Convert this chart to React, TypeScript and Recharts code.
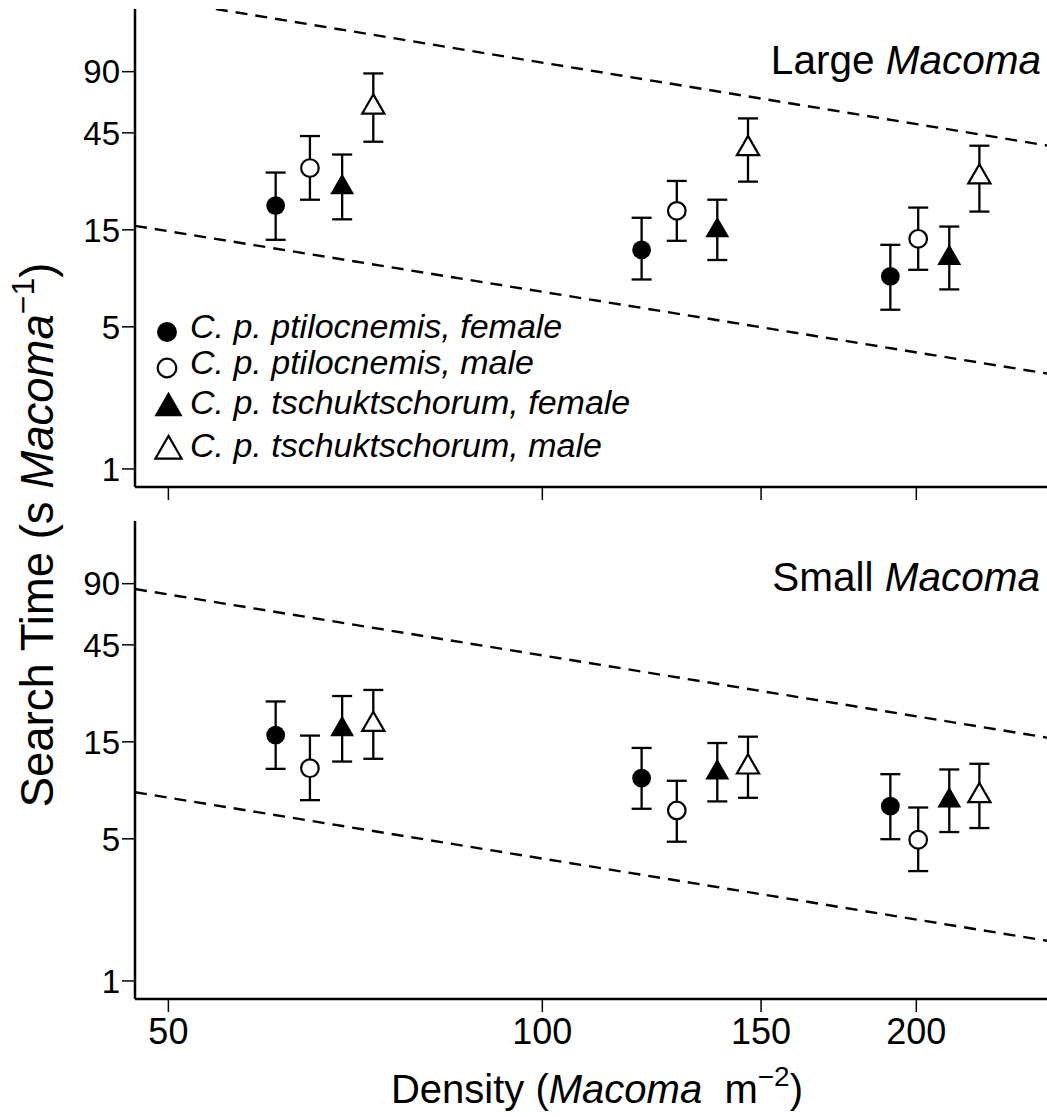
import React from 'react'
import {
  ScatterChart,
  Scatter,
  XAxis,
  YAxis,
  ErrorBar,
  ReferenceLine,
} from 'recharts'

const FONT = '"Liberation Sans", Arial, Helvetica, sans-serif'

// Density (Macoma m^-2) of each point, one array per bird group
const densityPtilFemale = [61, 120.2, 190.6]
const densityPtilMale = [65, 128.3, 200.7]
const densityTschFemale = [69, 138.3, 212.6]
const densityTschMale = [73.1, 146.4, 224.8]

// Large Macoma: mean search time, lower and upper end of error bar
const largePtilFemale = [19.75, 11.96, 8.85]
const largePtilFemaleLo = [13.4, 8.55, 6.07]
const largePtilFemaleHi = [28.7, 17.2, 12.66]
const largePtilMale = [30.2, 18.6, 13.55]
const largePtilMaleLo = [21.1, 13.25, 9.54]
const largePtilMaleHi = [43.4, 26.1, 19.3]
const largeTschFemale = [24.3, 14.9, 10.9]
const largeTschFemaleLo = [16.9, 10.66, 7.64]
const largeTschFemaleHi = [35.2, 21.1, 15.57]
const largeTschMale = [60.2, 37.6, 27.3]
const largeTschMaleLo = [40.7, 25.9, 18.45]
const largeTschMaleHi = [88.2, 53.0, 38.9]

// Small Macoma
const smallPtilFemale = [16.2, 9.94, 7.24]
const smallPtilFemaleLo = [11.05, 7.03, 4.98]
const smallPtilFemaleHi = [23.7, 14.0, 10.4]
const smallPtilMale = [11.13, 6.9, 4.95]
const smallPtilMaleLo = [7.75, 4.84, 3.47]
const smallPtilMaleHi = [16.1, 9.65, 7.13]
const smallTschFemale = [17.3, 10.6, 7.71]
const smallTschFemaleLo = [12.0, 7.64, 5.4]
const smallTschFemaleHi = [25.2, 14.8, 10.97]
const smallTschMale = [18.25, 11.27, 8.14]
const smallTschMaleLo = [12.38, 7.96, 5.65]
const smallTschMaleHi = [27.0, 15.9, 11.7]

// dashed reference lines (end points)
const largeUpperLine = [{ x: 54.6, y: 183 }, { x: 255.4, y: 38.9 }]
const largeLowerLine = [{ x: 47, y: 15.7 }, { x: 255.4, y: 2.94 }]
const smallUpperLine = [{ x: 47, y: 84.7 }, { x: 255.4, y: 15.7 }]
const smallLowerLine = [{ x: 47, y: 8.48 }, { x: 255.4, y: 1.572 }]

const SERIES_NAMES = [
  'C. p. ptilocnemis, female',
  'C. p. ptilocnemis, male',
  'C. p. tschuktschorum, female',
  'C. p. tschuktschorum, male',
]
const SERIES_KIND = ['circle', 'circle', 'triangle', 'triangle']
const SERIES_FILLED = [true, false, true, false]

const X_TICKS = [50, 100, 150, 200]
const Y_TICKS = [1, 5, 15, 45, 90]
const X_DOMAIN = [47, 262]
const Y_DOMAIN = [0.815, 183]

const buildSeries = (density: number[], mean: number[], lo: number[], hi: number[]) =>
  density.map((x, i) => ({
    x,
    y: mean[i],
    err: [mean[i] - lo[i], hi[i] - mean[i]],
  }))

const largeData = [
  buildSeries(densityPtilFemale, largePtilFemale, largePtilFemaleLo, largePtilFemaleHi),
  buildSeries(densityPtilMale, largePtilMale, largePtilMaleLo, largePtilMaleHi),
  buildSeries(densityTschFemale, largeTschFemale, largeTschFemaleLo, largeTschFemaleHi),
  buildSeries(densityTschMale, largeTschMale, largeTschMaleLo, largeTschMaleHi),
]
const smallData = [
  buildSeries(densityPtilFemale, smallPtilFemale, smallPtilFemaleLo, smallPtilFemaleHi),
  buildSeries(densityPtilMale, smallPtilMale, smallPtilMaleLo, smallPtilMaleHi),
  buildSeries(densityTschFemale, smallTschFemale, smallTschFemaleLo, smallTschFemaleHi),
  buildSeries(densityTschMale, smallTschMale, smallTschMaleLo, smallTschMaleHi),
]

function Marker({ cx, cy, kind, filled, scale = 1 }: any) {
  if (cx == null || cy == null) return null
  if (kind === 'circle') {
    return (
      <circle
        cx={cx}
        cy={cy}
        r={(filled ? 9.4 : 8.8) * scale}
        fill={filled ? '#000' : '#fff'}
        stroke="#000"
        strokeWidth={filled ? 0 : 2.2}
      />
    )
  }
  const r = (filled ? 13.8 : 12.8) * scale
  const hw = r * 0.866
  return (
    <polygon
      points={`${cx},${cy - r} ${cx + hw},${cy + r / 2} ${cx - hw},${cy + r / 2}`}
      fill={filled ? '#000' : '#fff'}
      stroke="#000"
      strokeWidth={filled ? 0 : 2.2}
      strokeLinejoin="miter"
    />
  )
}

const emptyTick = () => <g />

function Panel({ data, lines, height, marginTop, xAxisHeight, showXLabels }: any) {
  return (
    <ScatterChart
      width={1070}
      height={height}
      margin={{ top: marginTop, right: 8, bottom: 0, left: 0 }}
    >
      <XAxis
        xAxisId="top"
        orientation="top"
        type="number"
        scale="log"
        domain={X_DOMAIN}
        allowDataOverflow
        height={0}
        tick={false}
        tickLine={false}
        axisLine={{ stroke: '#000', strokeWidth: 2.5 }}
      />
      <XAxis
        dataKey="x"
        type="number"
        scale="log"
        domain={X_DOMAIN}
        allowDataOverflow
        ticks={X_TICKS}
        interval={0}
        height={xAxisHeight}
        tickSize={13}
        tickMargin={6}
        tick={
          showXLabels
            ? { fontSize: 36, fill: '#000', fontFamily: FONT }
            : emptyTick
        }
        tickLine={{ stroke: '#000', strokeWidth: 1.5 }}
        axisLine={{ stroke: '#000', strokeWidth: 2.5 }}
      />
      <YAxis
        dataKey="y"
        type="number"
        scale="log"
        domain={Y_DOMAIN}
        allowDataOverflow
        ticks={Y_TICKS}
        interval={0}
        width={135}
        tickSize={13}
        tickMargin={2}
        tick={{ fontSize: 33, fill: '#000', fontFamily: FONT }}
        tickLine={{ stroke: '#000', strokeWidth: 1.5 }}
        axisLine={{ stroke: '#000', strokeWidth: 2.5 }}
      />
      {lines.map((seg: any, i: number) => (
        <ReferenceLine
          key={`line-${i}`}
          segment={seg}
          ifOverflow="hidden"
          stroke="#000"
          strokeWidth={2.4}
          strokeDasharray="12 8"
        />
      ))}
      {data.map((points: any, i: number) => (
        <Scatter
          key={SERIES_NAMES[i]}
          name={SERIES_NAMES[i]}
          data={points}
          isAnimationActive={false}
          shape={(p: any) => (
            <Marker cx={p.cx} cy={p.cy} kind={SERIES_KIND[i]} filled={SERIES_FILLED[i]} />
          )}
        >
          <ErrorBar
            dataKey="err"
            direction="y"
            width={10}
            stroke="#000"
            strokeWidth={2.3}
          />
        </Scatter>
      ))}
    </ScatterChart>
  )
}

export default function App() {
  return (
    <div
      style={{
        position: 'absolute',
        left: 0,
        top: 0,
        width: 1047,
        height: 1117,
        overflow: 'hidden',
        background: '#fff',
        fontFamily: FONT,
      }}
    >
      <div style={{ position: 'absolute', left: 0, top: 0 }}>
        <Panel
          data={largeData}
          lines={[largeUpperLine, largeLowerLine]}
          height={500}
          marginTop={9}
          xAxisHeight={13}
          showXLabels={false}
        />
      </div>
      <div style={{ position: 'absolute', left: 0, top: 510 }}>
        <Panel
          data={smallData}
          lines={[smallUpperLine, smallLowerLine]}
          height={559}
          marginTop={11}
          xAxisHeight={70}
          showXLabels
        />
      </div>

      <svg
        width={1047}
        height={1117}
        style={{ position: 'absolute', left: 0, top: 0, pointerEvents: 'none' }}
        fontFamily={FONT}
      >
        {/* panel titles */}
        <text x={1041} y={74} fontSize={40.5} textAnchor="end" fill="#000">
          Large <tspan fontStyle="italic">Macoma</tspan>
        </text>
        <text x={1040} y={591} fontSize={40.5} textAnchor="end" fill="#000">
          Small <tspan fontStyle="italic">Macoma</tspan>
        </text>

        {/* legend */}
        {SERIES_NAMES.map((name, i) => {
          const cy = [332, 368, 408, 451][i]
          return (
            <g key={name}>
              <Marker
                cx={SERIES_KIND[i] === 'circle' ? 167 : 168.5}
                cy={cy}
                kind={SERIES_KIND[i]}
                filled={SERIES_FILLED[i]}
                scale={SERIES_KIND[i] === 'circle' ? 1.06 : 1.18}
              />
              <text x={190} y={cy + 6} fontSize={34} fontStyle="italic" fill="#000">
                {name}
              </text>
            </g>
          )
        })}

        {/* y axis title */}
        <text
          x={53}
          y={535}
          transform="rotate(-90, 53, 535)"
          fontSize={45.5}
          textAnchor="middle"
          fill="#000"
        >
          Search Time (s <tspan fontStyle="italic">Macoma</tspan>
          <tspan fontSize={32} dy={-19}>{'\u22121'}</tspan>
          <tspan dy={19}>)</tspan>
        </text>

        {/* x axis title */}
        <text
          x={597}
          y={1103}
          fontSize={40}
          textAnchor="middle"
          fill="#000"
          style={{ whiteSpace: 'pre' }}
        >
          Density (<tspan fontStyle="italic">Macoma</tspan>
          {'  m'}
          <tspan fontSize={28} dy={-17}>{'\u22122'}</tspan>
          <tspan dy={17}>)</tspan>
        </text>
      </svg>
    </div>
  )
}
